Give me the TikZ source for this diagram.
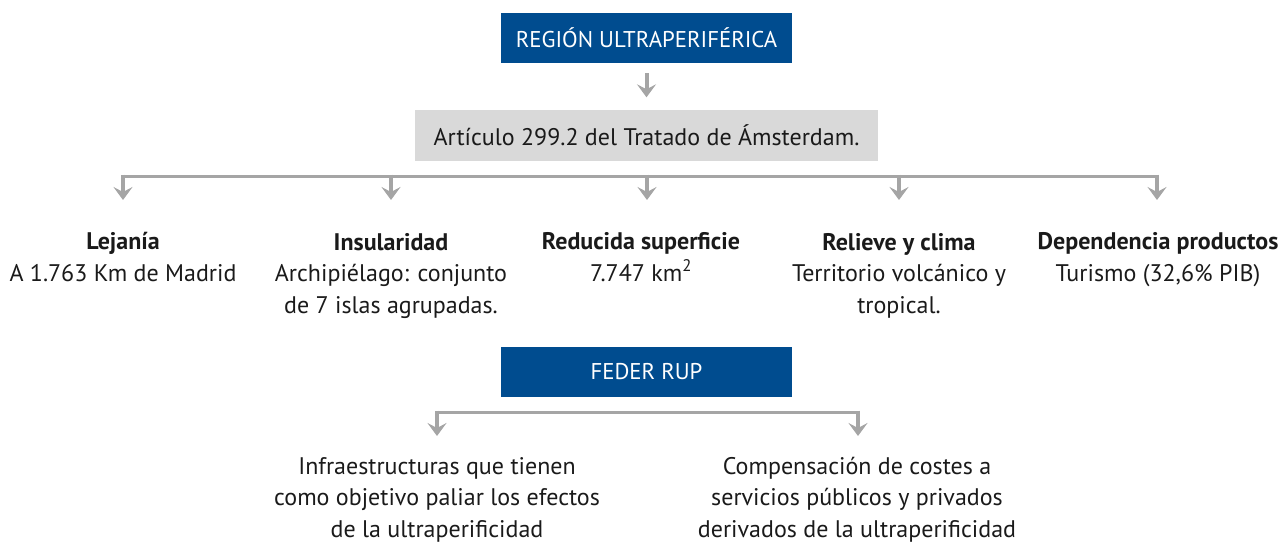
\documentclass[tikz,border=0pt]{standalone}
\usepackage{fontspec}
\setmainfont{PT Sans}
\usetikzlibrary{arrows.meta}
\definecolor{euBlue}{HTML}{004C8F}
\definecolor{boxGrey}{HTML}{D9D9D9}
\definecolor{arrGrey}{HTML}{A5A5A5}
\definecolor{txt}{HTML}{1A1A1A}
\tikzset{
  base font/.style={font=\fontsize{24}{31.5}\selectfont},
  bluebox/.style={font=\fontsize{22.8}{28}\selectfont, fill=euBlue, text=white, minimum width=291pt, minimum height=50pt, inner sep=0pt},
  greybox/.style={base font, fill=boxGrey, text=txt, minimum width=463pt, minimum height=51pt, inner sep=0pt},
  label/.style={base font, text=txt, align=center, anchor=base, inner sep=0pt},
  conn/.style={draw=arrGrey, line width=3pt},
  arr/.style={draw=arrGrey, line width=4pt, -{Stealth[length=13pt, width=19pt, inset=5pt]}}
}
\begin{document}
\begin{tikzpicture}[x=1pt, y=-1pt]
\useasboundingbox (0,0) rectangle (1288,544);
% top boxes
\node[bluebox] (reg) at (646.5,38) {REGIÓN ULTRAPERIFÉRICA};
\node[greybox] (art) at (646.5,135) {Artículo 299.2 del Tratado de Ámsterdam.};
\draw[arr] ([yshift=-10pt]reg.south) -- ([yshift=12pt]art.north);
% row of features (node position = baseline of last line)
\node[label] (l1) at (123,281) {\textbf{Lejanía}\\A 1.763 Km de Madrid};
\node[label] (l2) at (391,313) {\textbf{Insularidad}\\Archipiélago: conjunto\\de 7 islas agrupadas.};
\node[label] (l3) at (641,281) {\textbf{Reducida superficie}\\7.747 km\textsuperscript{2}};
\node[label] (l4) at (899,313) {\textbf{Relieve y clima}\\Territorio volcánico y\\tropical.};
\node[label] (l5) at (1158,281) {\textbf{Dependencia productos}\\Turismo (32,6\% PIB)};
\coordinate (b1) at (123,176);
\coordinate (b2) at (391,176);
\coordinate (b3) at (647,176);
\coordinate (b4) at (899,176);
\coordinate (b5) at (1157,176);
\draw[conn] (b1) -- (b5);
\foreach \b in {b1,b2,b3,b4,b5}{
  \draw[arr] ([yshift=1.5pt]\b) -- ([yshift=-24pt]\b);
}
% FEDER RUP
\node[bluebox] (fed) at (646.5,372) {FEDER RUP};
\node[label] (f1) at (437,537) {Infraestructuras que tienen\\como objetivo paliar los efectos\\de la ultraperificidad};
\node[label] (f2) at (857,537) {Compensación de costes a\\servicios públicos y privados\\derivados de la ultraperificidad};
\coordinate (c1) at (437,412);
\coordinate (c2) at (858,412);
\draw[conn] (c1) -- (c2);
\foreach \c in {c1,c2}{
  \draw[arr] ([yshift=1.5pt]\c) -- ([yshift=-24pt]\c);
}
\end{tikzpicture}
\end{document}
